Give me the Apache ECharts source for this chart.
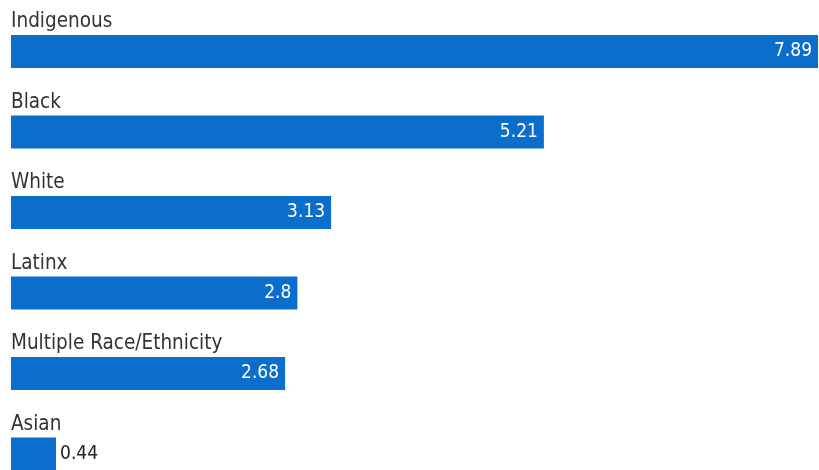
<!DOCTYPE html>
<html>
<head>
<meta charset="utf-8">
<script src="https://cdn.jsdelivr.net/npm/echarts@6/dist/echarts.min.js"></script>
<style>
html,body{margin:0;padding:0;background:#fff;}
#main{width:819px;height:470px;}
</style>
</head>
<body>
<div id="main"></div>
<script>
// data
var groups = ['Indigenous', 'Black', 'White', 'Latinx', 'Multiple Race/Ethnicity', 'Asian'];
var rates = [7.89, 5.21, 3.13, 2.8, 2.68, 0.44];

var font = '"DejaVu Sans Condensed", sans-serif';
var chart = echarts.init(document.getElementById('main'));

var barData = rates.map(function (v) {
  var item = { value: v };
  if (v < 1) {
    // too short for the number, put it outside
    item.label = { position: 'right', color: '#222', distance: 4 };
  }
  return item;
});

chart.setOption({
  animation: false,
  grid: { left: 11, right: 1, top: 51.5, height: 402.5, containLabel: false },
  xAxis: {
    type: 'value', min: 0, max: 7.89,
    show: false
  },
  yAxis: {
    type: 'category',
    data: groups,
    inverse: true,
    boundaryGap: false,
    axisLine: { show: false },
    axisTick: { show: false },
    splitLine: { show: false },
    axisLabel: {
      inside: true,
      margin: 0,
      align: 'left',
      verticalAlign: 'bottom',
      padding: [0, 0, 19, 0],
      color: '#333',
      fontFamily: font,
      fontSize: 20.5
    }
  },
  series: [{
    type: 'bar',
    data: barData,
    barWidth: 33,
    itemStyle: { color: '#0b6ecd' },
    label: {
      show: true,
      position: 'insideRight',
      distance: 6,
      color: '#fff',
      fontFamily: font,
      fontSize: 19
    }
  }]
});
</script>
</body>
</html>
